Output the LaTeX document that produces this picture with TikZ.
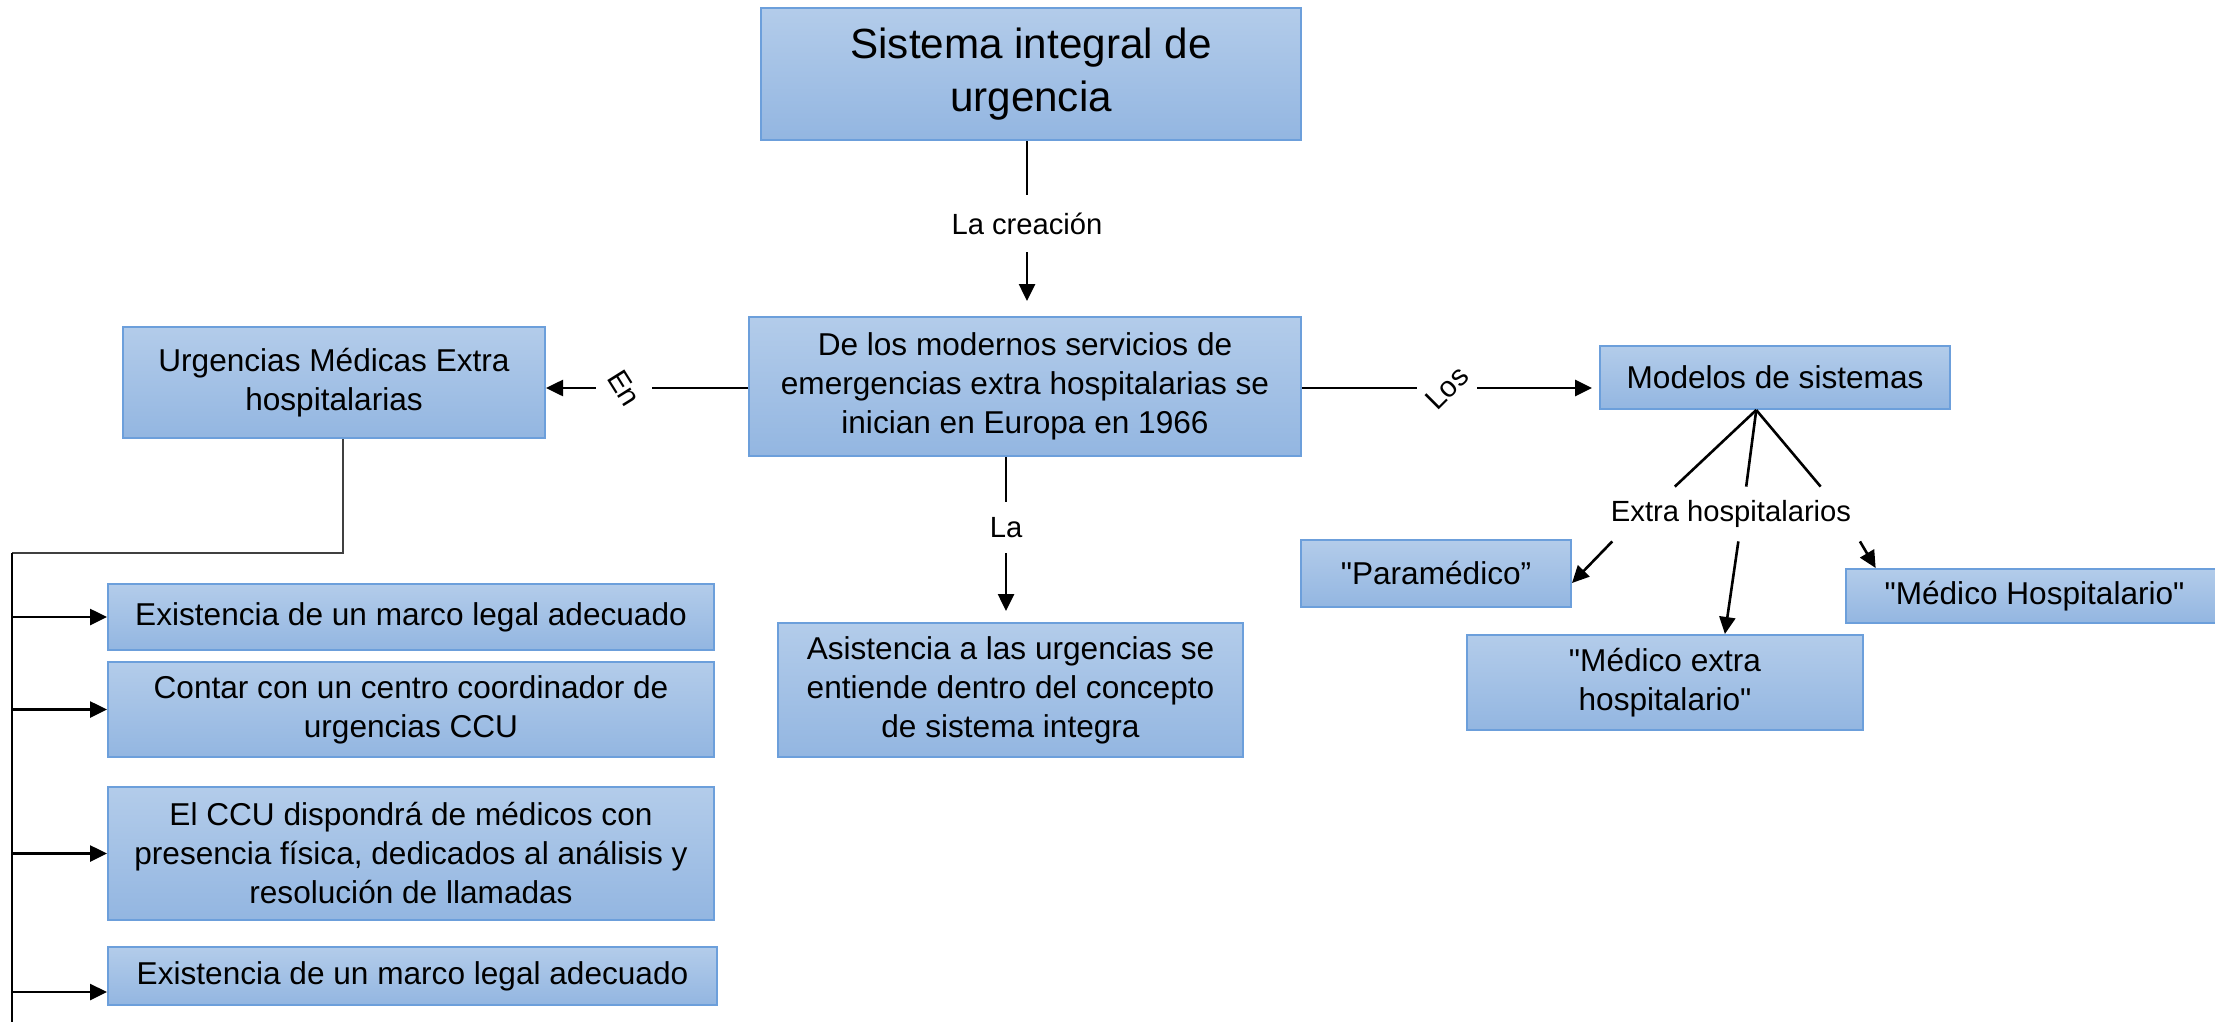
\documentclass[tikz,border=0pt]{standalone}
\usepackage{fontspec}
\setmainfont{Liberation Sans}[Ligatures=TeXOff]
\usetikzlibrary{arrows.meta}

\definecolor{BoxTop}{HTML}{B3CCEA}
\definecolor{BoxBottom}{HTML}{93B6E1}
\definecolor{BoxLine}{HTML}{6C9FDB}
\definecolor{Elbow}{HTML}{404040}

\begin{document}
\begin{tikzpicture}[x=0.5pt, y=-0.5pt,
  box/.style={draw=BoxLine, line width=1pt, top color=BoxTop, bottom color=BoxBottom, align=center, inner sep=0pt, font=\fontsize{15.8}{19.5}\selectfont},
  tag/.style={inner sep=0pt, font=\fontsize{14.6}{17}\selectfont},
  link/.style={line width=1.3pt},
  arrow/.style={line width=1.3pt, -{Triangle[length=8.5pt, width=8pt]}}]

 \useasboundingbox (0,0) rectangle (2215,1022);

 %%%%%%%%%% Cajas del centro %%%%%%%%%%
 \node[box, minimum width=270pt, minimum height=66pt, font=\fontsize{21.1}{26.5}\selectfont] (titulo) at (1031,74) {Sistema integral de\\urgencia};
 \node[box, minimum width=276pt, minimum height=69.5pt] (origen) at (1025,386.5) {De los modernos servicios de\\emergencias extra hospitalarias se\\inician en Europa en 1966};
 \node[box, minimum width=232.5pt, minimum height=67pt] (asistencia) at (1010.5,690) {Asistencia a las urgencias se\\entiende dentro del concepto\\de sistema integra};

 %%%%%%%%%% Cajas de la izquierda %%%%%%%%%%
 \node[box, minimum width=211pt, minimum height=55.5pt] (urgext) at (334,382.5) {Urgencias Médicas Extra\\hospitalarias};
 \node[box, minimum width=303pt, minimum height=33pt] (marco1) at (411,617) {Existencia de un marco legal adecuado};
 \node[box, minimum width=303pt, minimum height=47.5pt] (ccu) at (411,709.5) {Contar con un centro coordinador de\\urgencias CCU};
 \node[box, minimum width=303pt, minimum height=66.5pt] (medicos) at (411,853.5) {El CCU dispondrá de médicos con\\presencia física, dedicados al análisis y\\resolución de llamadas};
 \node[box, minimum width=304.5pt, minimum height=29pt] (marco2) at (412.5,976) {Existencia de un marco legal adecuado};

 %%%%%%%%%% Cajas de la derecha %%%%%%%%%%
 \node[box, minimum width=175pt, minimum height=31.5pt] (modelos) at (1775,377.5) {Modelos de sistemas};
 \node[box, minimum width=135pt, minimum height=33.5pt] (paramedico) at (1436,573.5) {"Paramédico”};
 \node[box, minimum width=198pt, minimum height=47.5pt] (medext) at (1665,682.5) {"Médico extra\\hospitalario"};
 \node[box, minimum width=189pt, minimum height=27pt] (medhosp) at (2034.5,596) {"Médico Hospitalario"};

 %%%%%%%%%% Etiquetas %%%%%%%%%%
 \node[tag, minimum height=28.5pt] (creacion) at (1027,223.5) {La creación};
 \node[tag, minimum height=25.5pt] (la) at (1006,527.5) {La};
 \node[tag, minimum width=28pt] (en) at (624,388) {\rotatebox{-58}{En}};
 \node[tag, minimum width=30pt] (los) at (1447,388) {\rotatebox{45}{Los}};
 \node[tag, minimum width=140pt, minimum height=27pt] (extra) at (1731,514) {Extra hospitalarios};

 %%%%%%%%%% Conectores %%%%%%%%%%
 \draw[link] (titulo.south -| creacion) -- (creacion);
 \draw[arrow, shorten >= 7.5pt] (creacion) -- (creacion |- origen.north);
 \draw[link] (origen.south -| la) -- (la);
 \draw[arrow, shorten >= 5.5pt] (la) -- (la |- asistencia.north);

 \draw[link] (origen.west |- en) -- (en);
 \draw[arrow] (en) -- (en -| urgext.east);
 \draw[link] (origen.east |- los) -- (los);
 \draw[arrow, shorten >= 3.5pt] (los) -- (los -| modelos.west);

 \draw[link] (modelos.240) -- (extra.154);
 \draw[link] (modelos.240) -- (extra.61);
 \draw[link] (modelos.240) -- (extra.17);
 \draw[arrow] (extra.193) -- (paramedico.356);
 \draw[arrow] (extra.285) -- (medext.39);
 \draw[arrow] (extra.348) -- (medhosp.170);

 %%%%%%%%%% Barra de la izquierda %%%%%%%%%%
 \coordinate (codo) at (343,553);
 \coordinate (barra) at (12,553);
 \coordinate (barrafin) at (12,1022);
 \draw[line width=0.8pt, color=Elbow] (urgext.south -| codo) -- (codo) -- (barra);
 \draw[line width=0.7pt] (barra) -- (barrafin);
 \draw[arrow] (barra |- marco1.west) -- (marco1.west);
 \draw[arrow] (barra |- ccu.west) -- (ccu.west);
 \draw[arrow] (barra |- medicos.west) -- (medicos.west);
 \draw[arrow] (barra |- marco2.183) -- (marco2.183);

\end{tikzpicture}
\end{document}
